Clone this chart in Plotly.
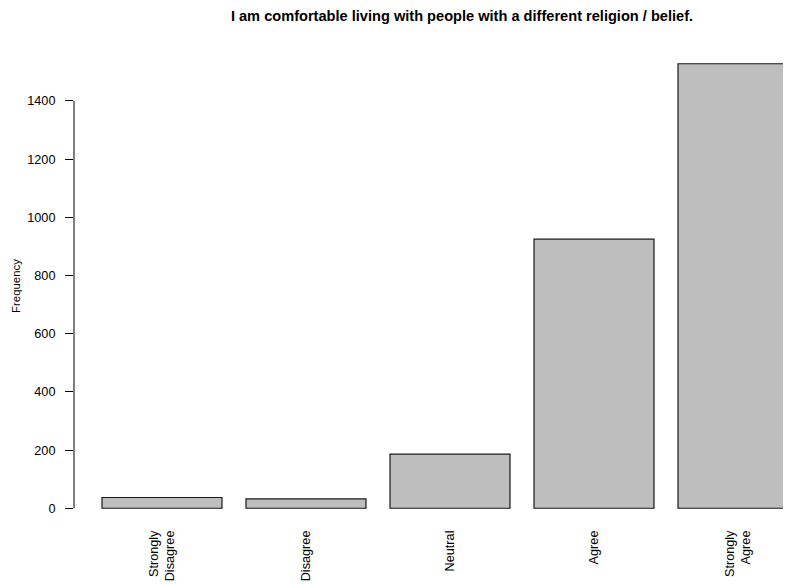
import plotly.graph_objects as go

categories = ["Strongly<br>Disagree", "Disagree", "Neutral", "Agree", "Strongly<br>Agree"]
frequencies = [37, 32, 186, 925, 1528]
y_ticks = [0, 200, 400, 600, 800, 1000, 1200, 1400]
title_text = "I am comfortable living with people with a different religion / belief."
y_label = "Frequency"

# page has an 8px body margin; figure sized to fill the rest of the 791x584 window
W, H = 783, 576
fig = go.Figure()
fig.add_trace(go.Bar(
    x=list(range(len(categories))), y=frequencies, width=0.8333,
    marker=dict(color="#bebebe", line=dict(color="#1a1a1a", width=1.2)),
))

font = "Liberation Sans, Arial, sans-serif"
fig.update_layout(
    width=W, height=H,
    margin=dict(l=66, r=0, t=38, b=58, autoexpand=False),
    plot_bgcolor="white", paper_bgcolor="white",
    showlegend=False,
    font=dict(family=font, size=12.7, color="black"),
    title=dict(text="<b>" + title_text + "</b>", x=454 / W, xanchor="center",
               y=1 - 8 / H, yanchor="middle", font=dict(size=14.6)),
    xaxis=dict(range=[-0.611, 4.368], tickmode="array",
               tickvals=list(range(len(categories))), ticktext=categories,
               tickangle=-90, showgrid=False, zeroline=False, showline=False,
               ticks="", ticklabelstandoff=1, tickfont=dict(size=12.7),
               automargin=False),
    yaxis=dict(range=[-61, 1589], tickmode="array", tickvals=y_ticks,
               showgrid=False, zeroline=False, showline=False,
               ticks="outside", ticklen=8, tickcolor="black", tickwidth=1,
               ticklabelstandoff=7, tickfont=dict(size=12.7), automargin=False,
               title=dict(text=y_label, font=dict(size=11.4), standoff=4)),
)
fig.add_shape(type="line", xref="paper", yref="y", x0=0, x1=0,
              y0=min(y_ticks), y1=max(y_ticks), line=dict(color="black", width=1))
fig.write_html("out.html")
